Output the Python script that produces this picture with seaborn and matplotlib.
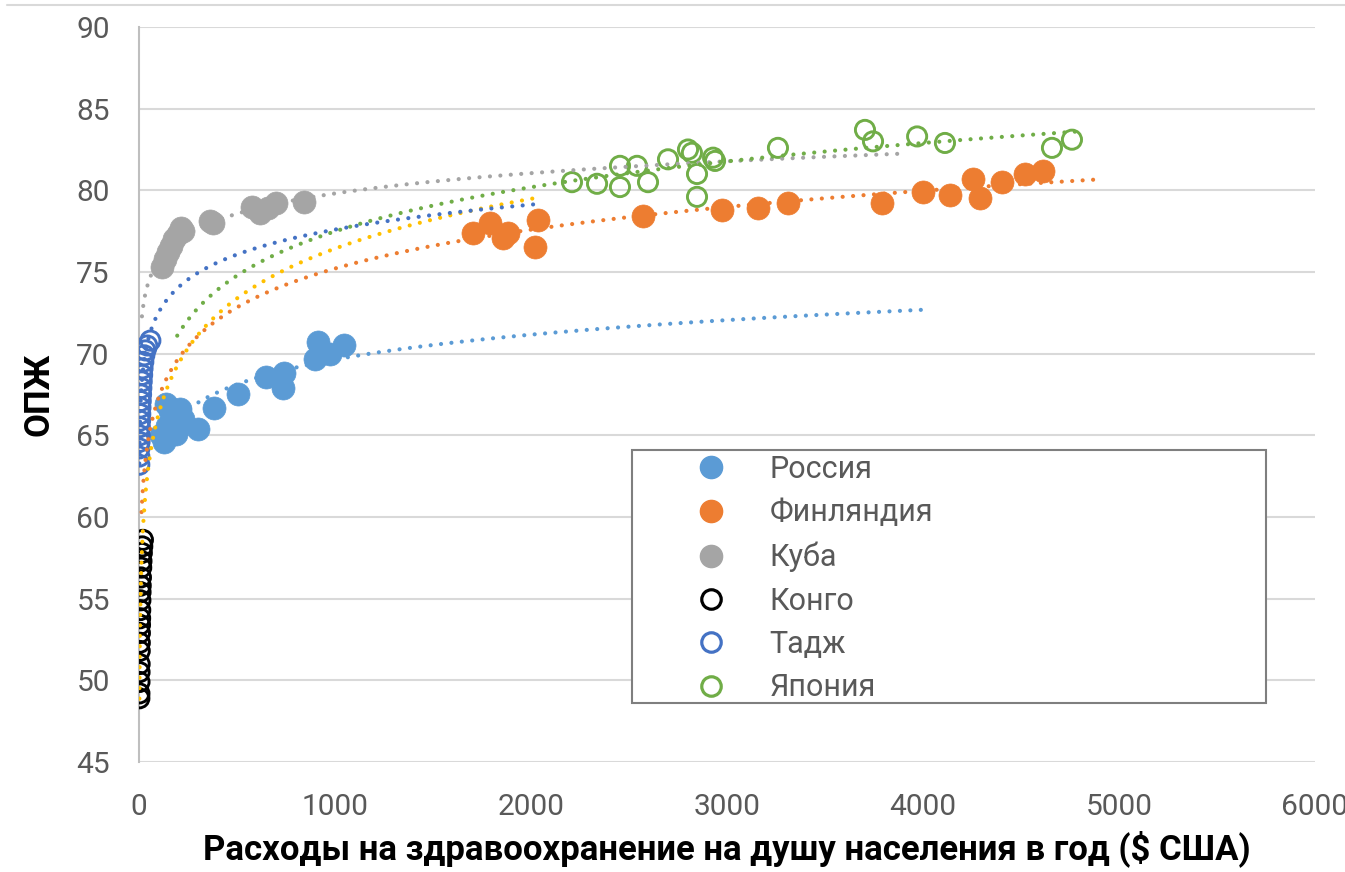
import numpy as np
import pandas as pd
import seaborn as sns
import matplotlib.pyplot as plt
from matplotlib.lines import Line2D
from matplotlib.patches import Rectangle

# ---------------- data ----------------
russia_x = [112, 127, 143, 158, 173, 189, 209, 224, 138, 301, 383, 505, 648, 740, 735, 898, 913, 975, 1046]
russia_y = [65.0, 64.6, 65.6, 66.5, 65.9, 65.1, 66.6, 66.0, 66.9, 65.4, 66.7, 67.5, 68.6, 68.8, 67.9, 69.7, 70.7, 70.0, 70.5]

finland_x = [1704, 1791, 1857, 1883, 2036, 2020, 2571, 2975, 3158, 3311, 3791, 4000, 4138, 4255, 4291, 4403, 4520, 4612]
finland_y = [77.4, 78.0, 77.1, 77.4, 78.2, 76.5, 78.4, 78.8, 78.9, 79.2, 79.2, 79.9, 79.7, 80.7, 79.5, 80.5, 81.0, 81.2]

cuba_x = [117, 133, 148, 163, 179, 199, 214, 225, 362, 378, 576, 617, 658, 699, 842]
cuba_y = [75.3, 75.8, 76.2, 76.6, 77.0, 77.3, 77.7, 77.5, 78.1, 78.0, 79.0, 78.6, 78.9, 79.2, 79.3]

congo_x = [1.9, 2.2, 2.5, 2.8, 3.2, 3.7, 4.1, 4.6, 5.1, 5.7, 6.3, 7.1, 7.9, 8.8, 9.9, 11.3, 12.6, 14.5, 16.7, 20.0]
congo_y = [48.9, 49.2, 49.9, 50.5, 51.0, 51.8, 52.3, 52.9, 53.4, 53.8, 54.3, 54.9, 55.4, 55.8, 56.3, 56.9, 57.3, 57.8, 58.2, 58.6]

tajik_x = [1.5, 1.7, 2.1, 2.8, 3.3, 4.5, 5.5, 6.5, 7.5, 9, 10.5, 12, 14, 16, 18, 22, 27, 33, 42, 58]
tajik_y = [63.2, 63.7, 64.2, 64.6, 65.0, 65.5, 65.9, 66.3, 66.7, 67.1, 67.5, 67.9, 68.3, 68.7, 69.1, 69.5, 69.9, 70.2, 70.5, 70.8]

japan_x = [2209, 2337, 2454, 2454, 2541, 2597, 2699, 2801, 2821, 2847, 2847, 2929, 2939, 3260, 3704, 3745, 3970, 4112, 4658, 4760]
japan_y = [80.5, 80.4, 80.2, 81.5, 81.5, 80.5, 81.9, 82.5, 82.3, 81.0, 79.6, 82.0, 81.8, 82.6, 83.7, 83.0, 83.3, 82.9, 82.6, 83.1]

labels = ["Россия", "Финляндия", "Куба", "Конго", "Тадж", "Япония"]
# trendline (logarithmic) extents incl. forecast, per series
trend_from = [112, 13, 15, 1.9, 1.5, 195]
trend_to = [3995, 4900, 3905, 2030, 2045, 4775]

xticks = [0, 1000, 2000, 3000, 4000, 5000, 6000]
yticks = [45, 50, 55, 60, 65, 70, 75, 80, 85, 90]

# ---------------- style ----------------
marker_col = ["#5B9BD5", "#ED7D31", "#A5A5A5", "#000000", "#4472C4", "#70AD47"]
trend_col = ["#5B9BD5", "#ED7D31", "#A5A5A5", "#FFC000", "#4472C4", "#70AD47"]
filled = [True, True, True, False, False, False]

sns.set_theme(style="white")
plt.rcParams["font.family"] = ["Roboto", "DejaVu Sans"]

fig = plt.figure(figsize=(13.45, 8.72), dpi=100)
L, R, T, B = 139, 1315, 27, 762
W, H = 1345, 872
ax = fig.add_axes([L / W, 1 - B / H, (R - L) / W, (B - T) / H])

# slide decoration line at the very top
fig.add_artist(Line2D([0.005, 1.0], [0.9945, 0.9945], color="#D9D9D9", lw=1.5,
                      transform=fig.transFigure))

xs_all = [russia_x, finland_x, cuba_x, congo_x, tajik_x, japan_x]
ys_all = [russia_y, finland_y, cuba_y, congo_y, tajik_y, japan_y]

for i, (xd, yd) in enumerate(zip(xs_all, ys_all)):
    df = pd.DataFrame({"x": xd, "y": yd})
    if filled[i]:
        sns.scatterplot(data=df, x="x", y="y", ax=ax, s=275, color=marker_col[i],
                        edgecolor=marker_col[i], linewidth=0.5, zorder=3, legend=False)
    else:
        sns.scatterplot(data=df, x="x", y="y", ax=ax, s=190, color=marker_col[i],
                        zorder=3, legend=False)
        coll = ax.collections[-1]
        coll.set_facecolor("none")
        coll.set_edgecolor(marker_col[i])
        coll.set_linewidth(2.1)

for i, (xd, yd) in enumerate(zip(xs_all, ys_all)):
    b, a = np.polyfit(np.log(np.array(xd, float)), np.array(yd, float), 1)
    xx = np.linspace(trend_from[i], trend_to[i], 2000)
    yy = a + b * np.log(xx)
    ax.plot(xx, yy, color=trend_col[i], lw=3.0, linestyle=(0, (0.01, 2.5)),
            dash_capstyle="round", zorder=4)

ax.set_xlim(0, 6000)
ax.set_ylim(45, 90)
ax.set_xticks(xticks)
ax.set_yticks(yticks)
ax.yaxis.grid(True, color="#D9D9D9", lw=1.5)
ax.xaxis.grid(False)
ax.set_axisbelow(True)
for s in ["top", "right", "bottom"]:
    ax.spines[s].set_visible(False)
ax.spines["left"].set_color("#BFBFBF")
ax.spines["left"].set_linewidth(1.5)
ax.tick_params(axis="both", length=0, labelsize=21.5, labelcolor="#595959")
ax.tick_params(axis="y", pad=21)
ax.tick_params(axis="x", pad=22)

ax.set_xlabel("Расходы на здравоохранение на душу населения в год ($ США)",
              fontsize=25, fontweight="bold", color="#000000", labelpad=7)
ax.set_ylabel("ОПЖ", fontsize=25, fontweight="bold", color="#000000", labelpad=15)

# legend box (drawn as a frame) and entries
def ax_frac(px, py):
    return (px - L) / (R - L), (B - py) / (B - T)

bx0, by0 = ax_frac(632, 703)
bx1, by1 = ax_frac(1266, 450)
ax.add_patch(Rectangle((bx0, by0), bx1 - bx0, by1 - by0, transform=ax.transAxes,
                       facecolor="white", edgecolor="#7F7F7F", lw=1.5, zorder=5))

handles = []
for i in range(6):
    if filled[i]:
        h = Line2D([], [], ls="none", marker="o", markersize=16, markerfacecolor=marker_col[i],
                   markeredgecolor=marker_col[i])
    else:
        h = Line2D([], [], ls="none", marker="o", markersize=14, markerfacecolor="none",
                   markeredgecolor=marker_col[i], markeredgewidth=2.3)
    handles.append(h)

lx, ly = ax_frac(696, 455)
leg = ax.legend(handles, labels, loc="upper left", bbox_to_anchor=(lx, ly),
                fontsize=22, frameon=False, borderpad=0, labelspacing=0.47,
                handlelength=1.0, handletextpad=1.4, borderaxespad=0)
leg.set_zorder(6)
for t in leg.get_texts():
    t.set_color("#595959")

fig.savefig("out.png", dpi=100)
